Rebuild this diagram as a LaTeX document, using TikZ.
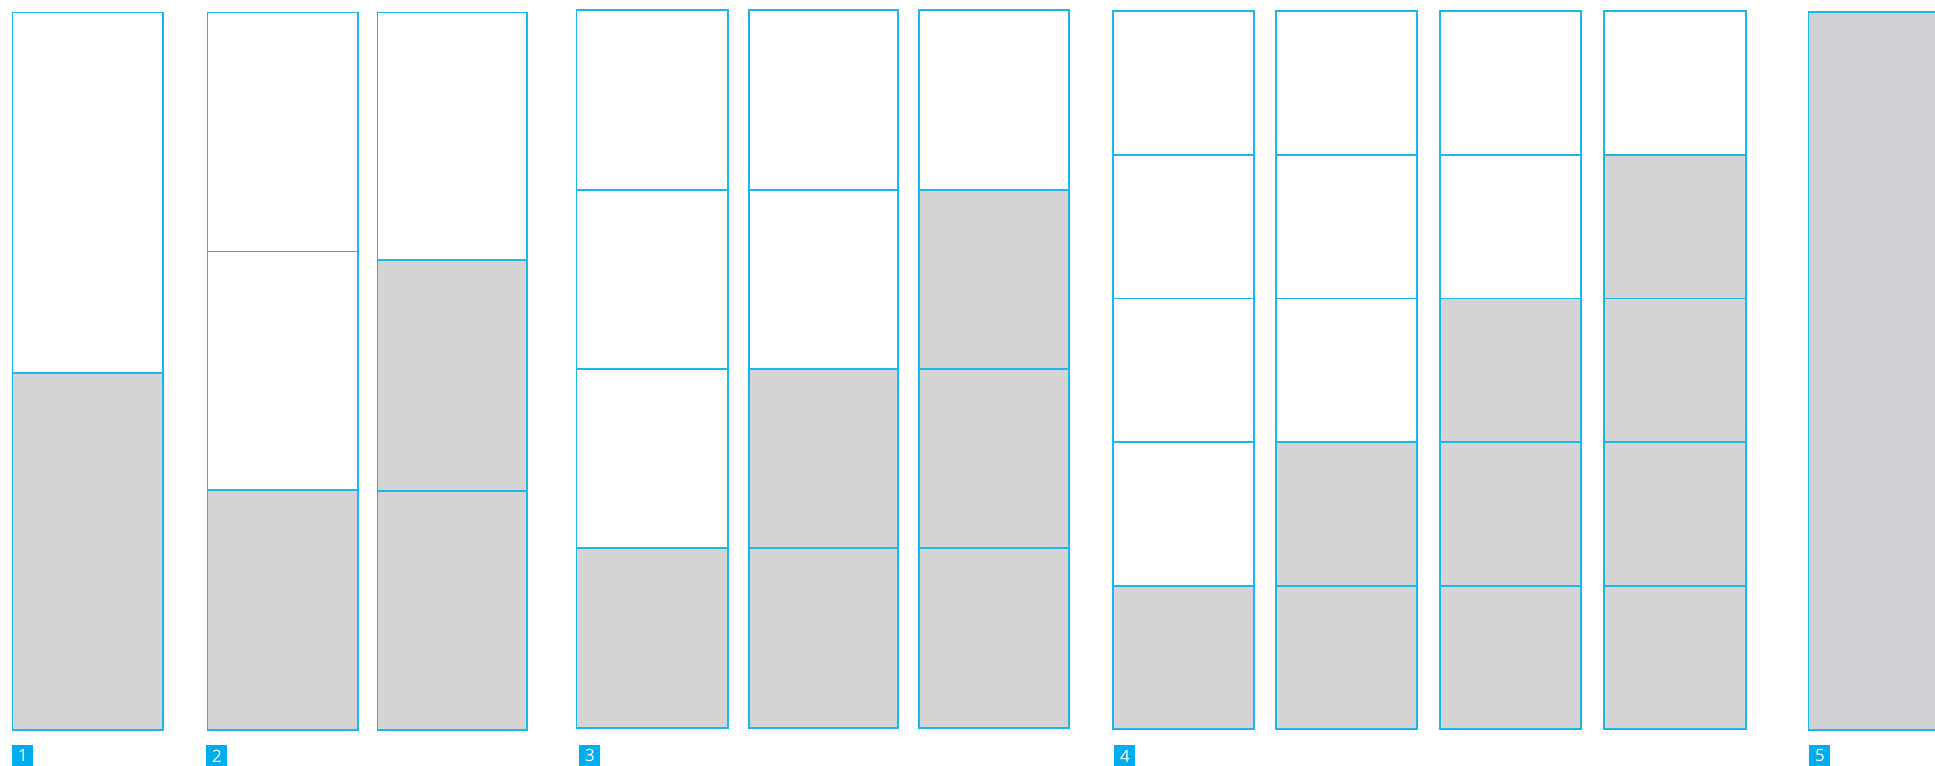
\documentclass[tikz,border=0pt]{standalone}
\usepackage{fontspec}
\setmainfont{Open Sans}
\definecolor{lineblue}{HTML}{1AB7EA}
\definecolor{labelblue}{HTML}{00AEEF}
\definecolor{shade}{HTML}{D4D4D4}
\definecolor{shadefive}{HTML}{D0D1D4}
\tikzset{
  frame/.style={draw=lineblue, line width=0.65pt},
  shaded/.style={fill=shade},
  numlabel/.style={fill=labelblue, text=white, minimum width=10.5pt, minimum height=10.5pt, inner sep=0pt, anchor=north west, font=\fontsize{8.5}{8.5}\selectfont}
}
% #1 left, #2 right, #3 top, #4 bottom, #5 fill start, #6 dividers
\newcommand{\stackcol}[6]{%
  \fill[shaded] (#1,#5) rectangle (#2,#4);
  \foreach \d in {#6} {\draw[frame] (#1,\d) -- (#2,\d);}
  \draw[frame] (#1,#3) rectangle (#2,#4);
}
\begin{document}
\begin{tikzpicture}[x=0.5pt,y=-0.5pt]
\useasboundingbox (0,0) rectangle (1935,766);
% group 1
\stackcol{12.5}{163}{12.5}{730}{373}{373}
% group 2
\stackcol{207.5}{358}{12.5}{730}{490}{251.5,490}
\stackcol{377.5}{527}{12.5}{730}{260}{260,491}
% group 3
\stackcol{576.5}{728}{10}{728}{548}{190,369,548}
\stackcol{749}{898}{10}{728}{369}{190,369,548}
\stackcol{919}{1069}{10}{728}{190}{190,369,548}
% group 4
\stackcol{1113}{1254}{11}{729}{586}{155,298.5,442,586}
\stackcol{1276}{1417}{11}{729}{442}{155,298.5,442,586}
\stackcol{1440}{1581}{11}{729}{298.5}{155,298.5,442,586}
\stackcol{1604}{1746}{11}{729}{155}{155,298.5,442,586}
% group 5
\fill[shadefive] (1808.5,12) rectangle (1940,730);
\draw[frame] (1940,12) -- (1808.5,12) -- (1808.5,730) -- (1940,730);
% labels
\node[numlabel] (l1) at (12,745) {1};
\node[numlabel] (l2) at (206,745) {2};
\node[numlabel] (l3) at (579,745) {3};
\node[numlabel] (l4) at (1114,745) {4};
\node[numlabel] (l5) at (1809,745) {5};
\end{tikzpicture}
\end{document}
